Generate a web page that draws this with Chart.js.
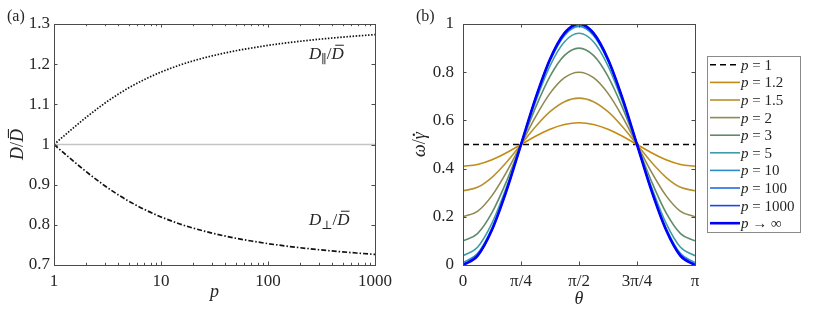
<!DOCTYPE html>
<html lang="en">
<head>
<meta charset="UTF-8">
<title>Diffusion ratio and rotation rate</title>
<script src="https://cdn.jsdelivr.net/npm/chart.js"></script>
<style>
    body { margin: 0; background: #fff; }
    #wrap { position: relative; width: 830px; height: 312px; }
    #wrap canvas { position: absolute; left: 0; top: 0; }
</style>
</head>
<body>
<div id="wrap">
    <canvas id="chartA" width="830" height="312"></canvas>
    <canvas id="chartB" width="830" height="312"></canvas>
</div>
<script>
// ---- panel (a) data ----
const aspectP   = [1, 1.05, 1.1, 1.25, 1.5, 2, 3, 4, 5, 7, 10, 15, 20, 30, 50, 70, 100, 150, 200, 300, 500, 700, 1000];
const dParallel = [1, 1.0048, 1.0095, 1.0223, 1.0403, 1.0677, 1.1032, 1.1255, 1.1411, 1.1617, 1.1803, 1.1978, 1.2082, 1.2206, 1.2334, 1.2403, 1.2468, 1.2531, 1.2570, 1.2620, 1.2674, 1.2705, 1.2736];
const dPerp     = [1, 0.9952, 0.9905, 0.9777, 0.9597, 0.9323, 0.8968, 0.8745, 0.8589, 0.8383, 0.8197, 0.8022, 0.7918, 0.7794, 0.7666, 0.7597, 0.7532, 0.7469, 0.7430, 0.7380, 0.7326, 0.7295, 0.7264];
const refP      = [1, 1000];
const refLevel  = [1, 1];
const aTicksX   = [1, 10, 100, 1000];
const aTicksY   = [0.7, 0.8, 0.9, 1, 1.1, 1.2, 1.3];

// ---- panel (b) data (theta in units of pi) ----
const theta   = [0, 0.0625, 0.125, 0.1875, 0.25, 0.3125, 0.375, 0.4375, 0.5, 0.5625, 0.625, 0.6875, 0.75, 0.8125, 0.875, 0.9375, 1];
const wP1     = [0.5, 0.5, 0.5, 0.5, 0.5, 0.5, 0.5, 0.5, 0.5, 0.5, 0.5, 0.5, 0.5, 0.5, 0.5, 0.5, 0.5];
const wP1_2   = [0.41, 0.4168, 0.4364, 0.4656, 0.5, 0.5344, 0.5636, 0.5832, 0.59, 0.5832, 0.5636, 0.5344, 0.5, 0.4656, 0.4364, 0.4168, 0.41];
const wP1_5   = [0.3077, 0.3223, 0.364, 0.4264, 0.5, 0.5736, 0.636, 0.6777, 0.6923, 0.6777, 0.636, 0.5736, 0.5, 0.4264, 0.364, 0.3223, 0.3077];
const wP2     = [0.2, 0.2228, 0.2879, 0.3852, 0.5, 0.6148, 0.7121, 0.7772, 0.8, 0.7772, 0.7121, 0.6148, 0.5, 0.3852, 0.2879, 0.2228, 0.2];
const wP3     = [0.1, 0.1304, 0.2172, 0.3469, 0.5, 0.6531, 0.7828, 0.8696, 0.9, 0.8696, 0.7828, 0.6531, 0.5, 0.3469, 0.2172, 0.1304, 0.1];
const wP5     = [0.0385, 0.0736, 0.1736, 0.3234, 0.5, 0.6766, 0.8264, 0.9264, 0.9615, 0.9264, 0.8264, 0.6766, 0.5, 0.3234, 0.1736, 0.0736, 0.0385];
const wP10    = [0.0099, 0.0472, 0.1534, 0.3125, 0.5, 0.6875, 0.8466, 0.9528, 0.9901, 0.9528, 0.8466, 0.6875, 0.5, 0.3125, 0.1534, 0.0472, 0.0099];
const wP100   = [0.0001, 0.0382, 0.1465, 0.3087, 0.5, 0.6913, 0.8535, 0.9618, 0.9999, 0.9618, 0.8535, 0.6913, 0.5, 0.3087, 0.1465, 0.0382, 0.0001];
const wP1000  = [0, 0.0381, 0.1464, 0.3087, 0.5, 0.6913, 0.8536, 0.9619, 1, 0.9619, 0.8536, 0.6913, 0.5, 0.3087, 0.1464, 0.0381, 0];
const wPInf   = [0, 0.0381, 0.1464, 0.3087, 0.5, 0.6913, 0.8536, 0.9619, 1, 0.9619, 0.8536, 0.6913, 0.5, 0.3087, 0.1464, 0.0381, 0];
const bSeries = [wP1, wP1_2, wP1_5, wP2, wP3, wP5, wP10, wP100, wP1000, wPInf];
const pLabels = ['1', '1.2', '1.5', '2', '3', '5', '10', '100', '1000', '\u221e'];
const bTicksX = [0, 0.25, 0.5, 0.75, 1];
const bTickLabelsX = ['0', '\u03c0/4', '\u03c0/2', '3\u03c0/4', '\u03c0'];
const bTicksY = [0, 0.2, 0.4, 0.6, 0.8, 1];

const colours = ['#000000', '#c38b12', '#b8922e', '#8e8a52', '#5f8b6c', '#3f9ca8', '#2a8bca', '#1f6fe0', '#1a48e8', '#0000ff'];

const FAM = "'Liberation Serif', 'DejaVu Serif', serif";
const INK = '#262626';
Chart.defaults.font.family = FAM;
Chart.defaults.font.size = 17;
Chart.defaults.color = INK;

// draws a run of math-ish text: parts = [{t, it, sub, bar, dot}]
function drawMath(ctx, parts, x, y, size, align) {
    const fontOf = p => (p.it ? 'italic ' : '') + (p.sub ? Math.round(size * 0.7) : size) + 'px ' + FAM;
    let total = 0;
    const widths = parts.map(p => {
        ctx.font = fontOf(p);
        const w = ctx.measureText(p.t).width;
        total += w;
        return w;
    });
    let cx = align === 'center' ? x - total / 2 : x;
    ctx.textAlign = 'left';
    ctx.textBaseline = 'alphabetic';
    parts.forEach((p, i) => {
        ctx.font = fontOf(p);
        ctx.fillText(p.t, cx, p.sub ? y + size * 0.22 : y);
        if (p.bar) ctx.fillRect(cx + widths[i] * 0.3, y - size * 0.84, widths[i] * 0.7, Math.max(1, size * 0.06));
        if (p.dot) {
            ctx.beginPath();
            ctx.arc(cx + widths[i] * 0.62, y - size * 0.62, size * 0.065, 0, 2 * Math.PI);
            ctx.fill();
        }
        cx += widths[i];
    });
}

function frameAndTicks(chart, xMajor, xMinor, yMajor) {
    const ctx = chart.ctx, a = chart.chartArea;
    const xs = chart.scales.x, ys = chart.scales.y;
    ctx.save();
    ctx.strokeStyle = '#4a4a4a';
    ctx.lineWidth = 1;
    ctx.beginPath();
    const tick = (v, len) => {
        const px = Math.round(xs.getPixelForValue(v)) + 0.5;
        ctx.moveTo(px, a.bottom); ctx.lineTo(px, a.bottom - len);
        ctx.moveTo(px, a.top); ctx.lineTo(px, a.top + len);
    };
    xMajor.forEach(v => tick(v, 3.5));
    xMinor.forEach(v => tick(v, 2.2));
    yMajor.forEach(v => {
        const py = Math.round(ys.getPixelForValue(v)) + 0.5;
        ctx.moveTo(a.left, py); ctx.lineTo(a.left + 3.5, py);
        ctx.moveTo(a.right, py); ctx.lineTo(a.right - 3.5, py);
    });
    ctx.stroke();
    ctx.strokeRect(Math.round(a.left) + 0.5, Math.round(a.top) + 0.5, Math.round(a.right - a.left), Math.round(a.bottom - a.top));
    ctx.restore();
}

const commonOpts = (left, right) => ({
    responsive: false,
    animation: false,
    events: [],
    layout: { padding: { left: 0, top: 24, right: right, bottom: 0 } },
    plugins: { legend: { display: false }, tooltip: { enabled: false } },
    elements: { point: { radius: 0 }, line: { borderWidth: 1.5, cubicInterpolationMode: 'monotone' } }
});

// ---------------- panel (a) ----------------
const minorA = [];
[1, 10, 100].forEach(d => { for (let m = 2; m <= 9; m++) minorA.push(d * m); });

const panelA = {
    id: 'panelA',
    afterDatasetsDraw(chart) { frameAndTicks(chart, aTicksX, minorA, aTicksY); },
    afterDraw(chart) {
        const ctx = chart.ctx, a = chart.chartArea;
        ctx.save();
        ctx.fillStyle = INK;
        drawMath(ctx, [{ t: '(a)' }], 7, 21, 16, 'left');
        drawMath(ctx, [{ t: 'p', it: true }], (a.left + a.right) / 2, 297, 18, 'center');
        drawMath(ctx, [{ t: 'D', it: true }, { t: '\u2225', sub: true }, { t: '/' }, { t: 'D', it: true, bar: true }], 309, 59, 17, 'left');
        drawMath(ctx, [{ t: 'D', it: true }, { t: '\u22a5', sub: true }, { t: '/' }, { t: 'D', it: true, bar: true }], 309, 225, 17, 'left');
        ctx.translate(17, (a.top + a.bottom) / 2);
        ctx.rotate(-Math.PI / 2);
        drawMath(ctx, [{ t: 'D', it: true }, { t: '/' }, { t: 'D', it: true, bar: true }], 0, 6, 18, 'center');
        ctx.restore();
    }
};

new Chart(document.getElementById('chartA'), {
    type: 'line',
    data: {
        datasets: [
            { data: aspectP.map((p, i) => ({ x: p, y: dParallel[i] })), borderColor: '#111', borderDash: [1.5, 1.6], borderWidth: 1.7 },
            { data: aspectP.map((p, i) => ({ x: p, y: dPerp[i] })), borderColor: '#111', borderDash: [5, 2, 1.5, 2], borderWidth: 1.7 },
            { data: refP.map((p, i) => ({ x: p, y: refLevel[i] })), borderColor: '#c4c4c4', borderWidth: 1.5 }
        ]
    },
    options: Object.assign(commonOpts(0, 455), {
        scales: {
            x: {
                type: 'logarithmic', min: 1, max: 1000,
                grid: { display: false, drawTicks: false }, border: { display: false },
                afterBuildTicks: s => { s.ticks = aTicksX.map(v => ({ value: v })); },
                afterFit: s => { s.height = 47; },
                ticks: { padding: 6, maxRotation: 0, autoSkip: false, callback: v => String(v) }
            },
            y: {
                min: 0.7, max: 1.3,
                grid: { display: false, drawTicks: false }, border: { display: false },
                afterBuildTicks: s => { s.ticks = aTicksY.map(v => ({ value: v })); },
                afterFit: s => { s.width = 54; },
                ticks: { padding: 4, callback: v => String(+v.toFixed(1)) }
            }
        }
    }),
    plugins: [panelA]
});

// ---------------- panel (b) ----------------
const panelB = {
    id: 'panelB',
    afterDatasetsDraw(chart) { frameAndTicks(chart, bTicksX, [], bTicksY); },
    afterDraw(chart) {
        const ctx = chart.ctx, a = chart.chartArea;
        ctx.save();
        ctx.fillStyle = INK;
        drawMath(ctx, [{ t: '(b)' }], 416, 21, 16, 'left');
        drawMath(ctx, [{ t: '\u03b8', it: true }], (a.left + a.right) / 2, 304, 18, 'center');

        // legend box
        const lx = 707, ly = 56, lw = 93, lh = 176, row = lh / pLabels.length;
        ctx.fillStyle = '#fff';
        ctx.fillRect(lx, ly, lw, lh);
        ctx.strokeStyle = '#8a8a8a';
        ctx.lineWidth = 1;
        ctx.strokeRect(lx + 0.5, ly + 0.5, lw, lh);
        pLabels.forEach((lab, i) => {
            const cy = ly + row * (i + 0.5);
            const ds = chart.data.datasets[i];
            ctx.save();
            ctx.strokeStyle = ds.borderColor;
            ctx.lineWidth = ds.borderWidth;
            ctx.setLineDash(ds.borderDash || []);
            ctx.beginPath();
            ctx.moveTo(710, cy); ctx.lineTo(740, cy);
            ctx.stroke();
            ctx.restore();
            ctx.fillStyle = INK;
            const rest = lab === '\u221e' ? ' \u2192 \u221e' : ' = ' + lab;
            drawMath(ctx, [{ t: 'p', it: true }, { t: rest }], 741, cy + 5, 15, 'left');
        });

        ctx.fillStyle = INK;
        ctx.translate(420, (a.top + a.bottom) / 2);
        ctx.rotate(-Math.PI / 2);
        drawMath(ctx, [{ t: '\u03c9', it: true }, { t: '/' }, { t: '\u03b3', it: true, dot: true }], 0, 5, 18, 'center');
        ctx.restore();
    }
};

new Chart(document.getElementById('chartB'), {
    type: 'line',
    data: {
        datasets: bSeries.map((vals, i) => ({
            data: theta.map((t, k) => ({ x: t, y: vals[k] })),
            borderColor: colours[i],
            borderWidth: i === bSeries.length - 1 ? 2.6 : 1.6,
            borderDash: i === 0 ? [6, 4] : undefined,
            order: bSeries.length - i
        }))
    },
    options: Object.assign(commonOpts(0, 135), {
        scales: {
            x: {
                type: 'linear', min: 0, max: 1,
                grid: { display: false, drawTicks: false }, border: { display: false },
                afterBuildTicks: s => { s.ticks = bTicksX.map(v => ({ value: v })); },
                afterFit: s => { s.height = 47; },
                ticks: { padding: 6, maxRotation: 0, autoSkip: false, callback: (v, i) => bTickLabelsX[i] }
            },
            y: {
                min: 0, max: 1,
                grid: { display: false, drawTicks: false }, border: { display: false },
                afterBuildTicks: s => { s.ticks = bTicksY.map(v => ({ value: v })); },
                afterFit: s => { s.width = 463; },
                ticks: { padding: 9, callback: v => String(+v.toFixed(1)) }
            }
        }
    }),
    plugins: [panelB]
});
</script>
</body>
</html>
